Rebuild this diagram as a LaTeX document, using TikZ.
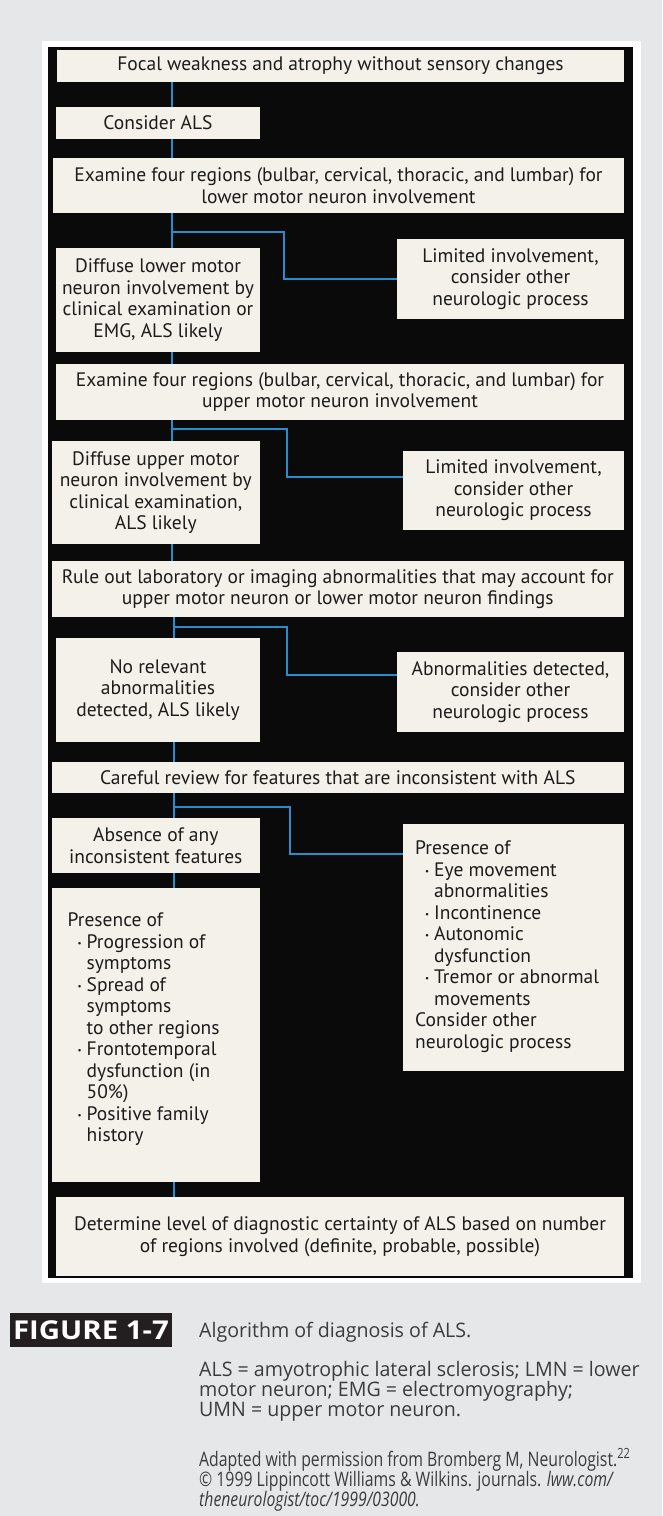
\documentclass[tikz,border=0pt]{standalone}
\usepackage{fontspec}
\setmainfont{PT Sans}
\newfontfamily\capfont[FakeStretch=0.98]{Open Sans}
\newfontfamily\capfontB[FakeStretch=0.79]{Open Sans}
\newfontfamily\figfont[FakeStretch=1.13]{Open Sans}
\definecolor{pagebg}{RGB}{230,231,233}
\definecolor{blk}{RGB}{10,10,10}
\definecolor{boxfill}{RGB}{243,241,233}
\definecolor{connblue}{RGB}{40,140,205}
\definecolor{txt}{RGB}{28,28,28}
\definecolor{captxt}{RGB}{60,60,60}
\definecolor{figblk}{RGB}{35,31,32}
\newcommand\itm{\makebox[19pt][r]{\raisebox{2pt}{\fontsize{9}{9}\selectfont\textbullet}\hspace{5pt}}}
\newcommand\ind{\hspace*{19pt}}
\begin{document}
\begin{tikzpicture}[x=1pt,y=-1pt,
  box/.style={fill=boxfill, inner sep=0pt, align=center, text=txt,
    font=\fontsize{19.5}{21.6}\selectfont},
  listtext/.style={inner sep=0pt, align=left, text=txt, anchor=north west,
    font=\fontsize{19.5}{21.5}\selectfont},
  conn/.style={draw=connblue, line width=2.5pt},
  captext/.style={inner sep=0pt, anchor=base west, text=captxt, font=\capfont\fontsize{20}{20}\selectfont},
  captextB/.style={inner sep=0pt, anchor=base west, text=captxt, font=\capfontB\fontsize{20}{20}\selectfont}]
\useasboundingbox (0,0) rectangle (662,1516);
\fill[pagebg] (0,0) rectangle (662,1516);
\fill[white] (42,41) rectangle (641,1283);
\fill[blk] (47.7,46.7) rectangle (633,1278);

% boxes
\node[box, minimum width=567pt, minimum height=32pt] (b1) at (340.5,66)
  {Focal weakness and atrophy without sensory changes};
\node[box, minimum width=204pt, minimum height=32pt] (b2) at (158,123)
  {Consider ALS};
\node[box, minimum width=571pt, minimum height=55pt] (b3) at (338.5,185.5)
  {Examine four regions (bulbar, cervical, thoracic, and lumbar) for\\ lower motor neuron involvement};
\node[box, minimum width=204pt, minimum height=104pt] (b4L) at (158,300)
  {Diffuse lower motor\\ neuron involvement by\\ clinical examination or\\ EMG, ALS likely};
\node[box, minimum width=227pt, minimum height=80pt] (b4R) at (510.5,279)
  {Limited involvement,\\ consider other\\ neurologic process};
\node[box, minimum width=568pt, minimum height=56pt] (b5) at (340,392)
  {Examine four regions (bulbar, cervical, thoracic, and lumbar) for\\ upper motor neuron involvement};
\node[box, minimum width=208.5pt, minimum height=103pt] (b6L) at (155.75,492.5)
  {Diffuse upper motor\\ neuron involvement by\\ clinical examination,\\ ALS likely};
\node[box, minimum width=221pt, minimum height=79pt] (b6R) at (513.5,490.5)
  {Limited involvement,\\ consider other\\ neurologic process};
\node[box, minimum width=572.5pt, minimum height=56pt] (b7) at (337.75,589)
  {Rule out laboratory or imaging abnormalities that may account for\\ upper motor neuron or lower motor neuron findings};
\node[box, minimum width=204pt, minimum height=104pt] (b8L) at (158,690)
  {No relevant\\ abnormalities\\ detected, ALS likely};
\node[box, minimum width=227pt, minimum height=80pt] (b8R) at (510.5,692)
  {Abnormalities detected,\\ consider other\\ neurologic process};
\node[box, minimum width=572.5pt, minimum height=31pt] (b9) at (337.75,777.5)
  {Careful review for features that are inconsistent with ALS};
\node[box, minimum width=208.5pt, minimum height=55pt] (b10L) at (155.75,845.5)
  {Absence of any\\ inconsistent features};
\node[box, minimum width=221pt, minimum height=247pt] (b10R) at (513.5,947.5) {};
\node[listtext] (t10R) at (415,840.5)
  {Presence of\\
   \itm Eye movement\\
   \ind abnormalities\\
   \itm Incontinence\\
   \itm Autonomic\\
   \ind dysfunction\\
   \itm Tremor or abnormal\\
   \ind movements\\
   Consider other\\
   neurologic process};
\node[box, minimum width=208.5pt, minimum height=294pt] (b11L) at (155.75,1035) {};
\node[listtext] (t11L) at (67.5,912.5)
  {Presence of\\
   \itm Progression of\\
   \ind symptoms\\
   \itm Spread of\\
   \ind symptoms\\
   \ind to other regions\\
   \itm Frontotemporal\\
   \ind dysfunction (in\\
   \ind 50\%)\\
   \itm Positive family\\
   \ind history};
\node[box, minimum width=568pt, minimum height=79pt] (b12) at (340,1236.5)
  {Determine level of diagnostic certainty of ALS based on number\\ of regions involved (definite, probable, possible)};

% connectors
\coordinate (tA) at (172,0);
\coordinate (tB) at (174,0);
\draw[conn] (b1.south -| tA) -- (b2.north -| tA);
\draw[conn] (b2.south -| tA) -- (b3.north -| tA);
\draw[conn] (b3.south -| tA) -- (b4L.north -| tA);
\coordinate (j1) at (172,232);
\draw[conn] (j1) -- ++(112,0) |- (b4R.west);
\draw[conn] (b4L.south -| tA) -- (b5.north -| tA);
\draw[conn] (b5.south -| tA) -- (b6L.north -| tA);
\coordinate (j2) at (172,429);
\draw[conn] (j2) -- ++(115,0) |- ([yshift=13.5pt]b6R.west);
\draw[conn] (b6L.south -| tA) -- (b7.north -| tA);
\draw[conn] (b7.south -| tB) -- (b8L.north -| tB);
\coordinate (j3) at (174,627);
\draw[conn] (j3) -- ++(113,0) |- ([yshift=17pt]b8R.west);
\draw[conn] (b8L.south -| tB) -- (b9.north -| tB);
\draw[conn] (b9.south -| tB) -- (b10L.north -| tB);
\coordinate (j4) at (174,807);
\draw[conn] (j4) -- ++(116,0) |- ([yshift=-30pt]b10R.north west);
\draw[conn] (b10L.south -| tB) -- (b11L.north -| tB);
\draw[conn] (b11L.south -| tB) -- (b12.north -| tB);

% caption
\node[fill=figblk, minimum width=162pt, minimum height=34pt, inner sep=0pt, text=white,
  font=\figfont\bfseries\fontsize{26}{26}\selectfont] (fig) at (91,1330) {FIGURE 1-7};
\node[captext] (c1) at (199,1337) {Algorithm of diagnosis of ALS.};
\node[captext] (c2) at (199,1376) {ALS = amyotrophic lateral sclerosis; LMN = lower};
\node[captext] (c3) at (199,1396) {motor neuron; EMG = electromyography;};
\node[captext] (c4) at (199,1416) {UMN = upper motor neuron.};
\node[captextB] (c5) at (199,1466) {Adapted with permission from Bromberg M, Neurologist.\textsuperscript{22}};
\node[captextB] (c6) at (199,1486) {\textcopyright{} 1999 Lippincott Williams \& Wilkins. journals. \textit{lww.com/}};
\node[captextB] (c7) at (199,1506) {\textit{theneurologist/toc/1999/03000.}};
\end{tikzpicture}
\end{document}
